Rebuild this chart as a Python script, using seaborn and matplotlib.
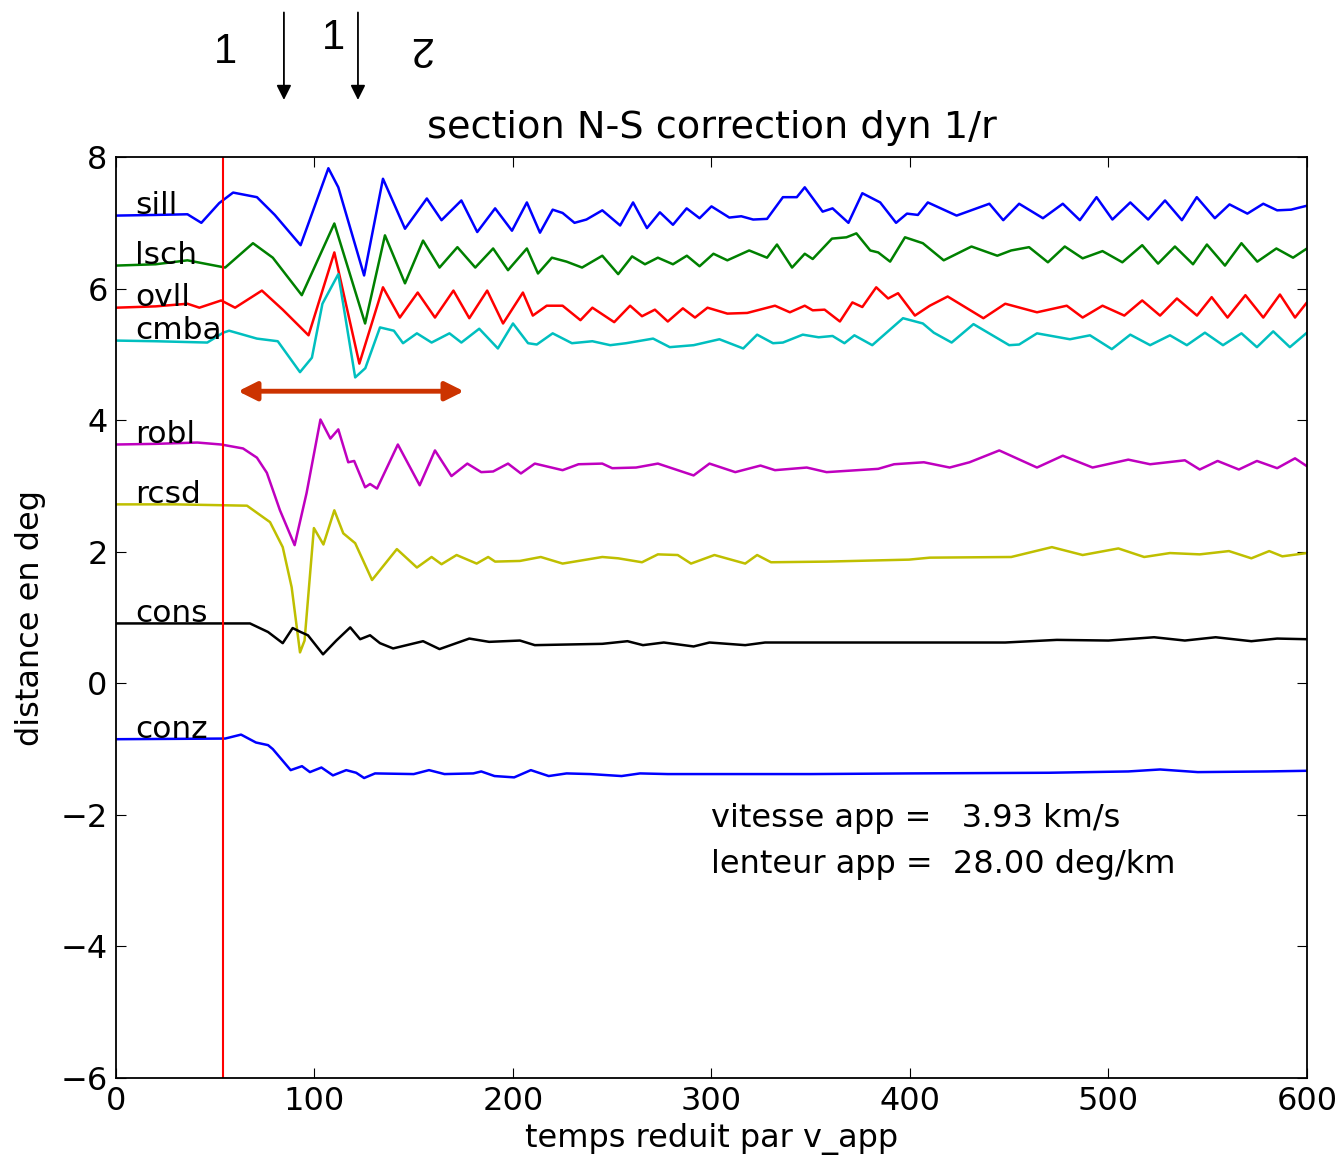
import pandas as pd
import matplotlib
matplotlib.use('Agg')
import matplotlib.pyplot as plt
import seaborn as sns


# =========================
# Donnees
# =========================

stations = ['sill', 'lsch', 'ovll', 'cmba', 'robl', 'rcsd', 'cons', 'conz']
couleurs = ['#0000ff', '#008000', '#ff0000', '#00bfbf',
            '#bf00bf', '#bfbf00', '#000000', '#0000ff']

sill = [(0, 7.11), (20, 7.12), (36, 7.13), (43, 7.0), (52, 7.3), (59, 7.46),
        (71, 7.39), (80, 7.12), (93, 6.66), (107, 7.83), (112, 7.54), (125, 6.2),
        (134.5, 7.67), (145.6, 6.91), (156.6, 7.37), (164, 7.04), (174, 7.34),
        (182, 6.86), (191, 7.22), (199.5, 6.88), (207, 7.31), (213.6, 6.85),
        (220, 7.2), (225, 7.15), (231, 7.0), (237, 7.05), (245, 7.19), (254, 6.96),
        (260.5, 7.31), (267.5, 6.92), (274, 7.16), (280.6, 6.97), (287.5, 7.22),
        (294, 7.07), (300, 7.25), (309, 7.08), (315, 7.1), (321, 7.05), (328, 7.06),
        (336, 7.39), (343, 7.39), (347, 7.54), (356, 7.17), (361, 7.22), (369, 7.0),
        (376, 7.45), (385, 7.31), (393, 7.0), (398.5, 7.14), (404, 7.12),
        (409, 7.31), (423.5, 7.11), (440, 7.29), (447, 7.04), (455, 7.29),
        (467, 7.07), (477, 7.29), (485.6, 7.04), (494, 7.39), (502, 7.05),
        (511, 7.31), (520, 7.05), (528.5, 7.34), (537, 7.04), (544.5, 7.39),
        (553.6, 7.07), (561, 7.28), (570, 7.14), (578, 7.29), (585, 7.19),
        (592, 7.2), (600, 7.26)]

lsch = [(0, 6.35), (20, 6.37), (36, 6.43), (55, 6.32), (69, 6.69), (79, 6.47),
        (93.6, 5.9), (110, 6.99), (125.5, 5.47), (135.5, 6.81), (145.6, 6.08),
        (154.7, 6.73), (163, 6.32), (172, 6.63), (181, 6.32), (190, 6.61),
        (197.5, 6.28), (207, 6.61), (212.6, 6.23), (219.6, 6.47), (227, 6.41),
        (234.8, 6.32), (245, 6.5), (253, 6.22), (260, 6.49), (266.5, 6.37),
        (273, 6.47), (280.6, 6.37), (287.6, 6.5), (294, 6.34), (301, 6.53),
        (308, 6.43), (319, 6.58), (328, 6.47), (333, 6.67), (340.6, 6.32),
        (347, 6.53), (351, 6.45), (360.7, 6.76), (368, 6.78), (373, 6.84),
        (380, 6.58), (384, 6.55), (390, 6.41), (397.5, 6.78), (406.5, 6.69),
        (417, 6.43), (431, 6.64), (444, 6.5), (451, 6.58), (460, 6.63),
        (469.5, 6.4), (478, 6.64), (487, 6.46), (497, 6.57), (507, 6.4),
        (517, 6.66), (525, 6.38), (533.5, 6.64), (542.6, 6.37), (549.6, 6.67),
        (558.7, 6.35), (567, 6.69), (575, 6.41), (584.6, 6.61), (593, 6.47),
        (600, 6.61)]

ovll = [(0, 5.71), (20, 5.73), (36, 5.77), (42, 5.71), (53, 5.82), (60, 5.71),
        (73.5, 5.97), (84, 5.68), (97, 5.29), (110, 6.55), (122.6, 4.86),
        (134.5, 6.02), (143, 5.56), (152, 5.94), (160.7, 5.56), (170, 5.97),
        (178, 5.55), (187, 5.97), (195, 5.47), (205, 5.94), (210, 5.59),
        (217, 5.74), (225, 5.74), (234, 5.52), (240, 5.71), (251, 5.49),
        (259, 5.74), (265, 5.58), (271.5, 5.68), (278, 5.5), (285.6, 5.7),
        (291.7, 5.56), (298, 5.71), (308, 5.62), (318, 5.63), (332, 5.74),
        (339.5, 5.64), (347, 5.74), (351, 5.67), (357, 5.68), (364.7, 5.5),
        (371, 5.79), (376, 5.72), (383, 6.02), (389, 5.85), (394, 5.93),
        (402.5, 5.59), (410, 5.74), (419, 5.88), (437, 5.55), (448, 5.77),
        (464, 5.64), (479, 5.74), (487, 5.56), (497, 5.74), (508, 5.59),
        (517, 5.82), (526, 5.59), (534.5, 5.85), (544.6, 5.59), (552, 5.87),
        (560, 5.56), (569, 5.9), (578, 5.56), (586.4, 5.91), (594, 5.56),
        (600, 5.79)]

cmba = [(0, 5.21), (20, 5.2), (46, 5.18), (54, 5.33), (57, 5.36), (71, 5.24),
        (81.5, 5.2), (92.7, 4.73), (98.7, 4.95), (104, 5.77), (112, 6.22),
        (120.5, 4.65), (125.6, 4.79), (133, 5.41), (140, 5.36), (144.6, 5.17),
        (151.6, 5.32), (159, 5.18), (168, 5.32), (174, 5.18), (183, 5.39),
        (192.4, 5.09), (200, 5.47), (207.6, 5.17), (212, 5.15), (220, 5.32),
        (229.7, 5.17), (240, 5.2), (249, 5.14), (257, 5.17), (270.6, 5.24),
        (279, 5.11), (291, 5.14), (304, 5.23), (316, 5.09), (323, 5.3),
        (331, 5.17), (336, 5.18), (346, 5.3), (354, 5.26), (361, 5.28),
        (367, 5.17), (372, 5.29), (381, 5.14), (396.5, 5.55), (406.5, 5.47),
        (412, 5.33), (421, 5.18), (432, 5.46), (450, 5.14), (455, 5.15),
        (464, 5.32), (480.6, 5.23), (490.7, 5.29), (501.7, 5.08), (511, 5.3),
        (521, 5.14), (531, 5.29), (539.5, 5.14), (548.6, 5.33), (557.7, 5.14),
        (567, 5.32), (574.8, 5.11), (583, 5.35), (591.4, 5.11), (600, 5.33)]

robl = [(0, 3.63), (20, 3.64), (41, 3.66), (53, 3.63), (64, 3.57), (71, 3.43),
        (76, 3.2), (82.6, 2.63), (90, 2.1), (96, 2.89), (103, 4.01), (108, 3.72),
        (112, 3.86), (117, 3.36), (120, 3.38), (125.5, 2.98), (128, 3.03),
        (131.5, 2.96), (142, 3.63), (153, 3.01), (160.7, 3.54), (169, 3.15),
        (177, 3.34), (184, 3.21), (190, 3.22), (197.5, 3.34), (204, 3.19),
        (211, 3.34), (218, 3.29), (225, 3.24), (233, 3.33), (245, 3.34),
        (250, 3.27), (262, 3.28), (273, 3.34), (291, 3.16), (299, 3.34),
        (312, 3.21), (324.7, 3.31), (332, 3.24), (348, 3.28), (358, 3.21),
        (384, 3.26), (392, 3.33), (407, 3.36), (420, 3.28), (430, 3.36),
        (445, 3.54), (464, 3.28), (477, 3.46), (492, 3.28), (510, 3.4),
        (521, 3.33), (538.5, 3.39), (546, 3.25), (555, 3.38), (565.7, 3.25),
        (574.8, 3.38), (585, 3.27), (594, 3.42), (600, 3.3)]

rcsd = [(0, 2.72), (30, 2.72), (66, 2.7), (77.6, 2.45), (84, 2.07), (88.5, 1.46),
        (92.7, 0.47), (95, 0.65), (99.7, 2.36), (104.5, 2.11), (110, 2.63),
        (114.5, 2.28), (120.5, 2.13), (129, 1.57), (141.5, 2.04), (151.6, 1.76),
        (159, 1.92), (164, 1.81), (171.6, 1.95), (181.7, 1.82), (187.5, 1.92),
        (191, 1.85), (203.5, 1.86), (214, 1.92), (225, 1.82), (245, 1.92),
        (253, 1.9), (265, 1.84), (273, 1.96), (283, 1.95), (289.7, 1.82),
        (301.5, 1.95), (317, 1.82), (323, 1.95), (330, 1.84), (358, 1.85),
        (399.5, 1.88), (410, 1.91), (451, 1.92), (471.5, 2.07), (487, 1.95),
        (505, 2.05), (518, 1.92), (531, 1.98), (546, 1.96), (560.7, 2.01),
        (572, 1.9), (581, 2.01), (587.6, 1.93), (600, 1.98)]

cons = [(0, 0.91), (67.5, 0.91), (76.6, 0.78), (84, 0.61), (89, 0.84), (93, 0.78),
        (96.7, 0.73), (104.3, 0.44), (111, 0.65), (118, 0.85), (123, 0.67),
        (128, 0.73), (133, 0.61), (139.6, 0.53), (154.7, 0.64), (163, 0.52),
        (178, 0.68), (188, 0.63), (203.5, 0.65), (211, 0.58), (245, 0.6),
        (257.7, 0.64), (265.5, 0.58), (276, 0.62), (291, 0.56), (299, 0.62),
        (317, 0.58), (327, 0.62), (384, 0.62), (448, 0.62), (474, 0.66),
        (500, 0.65), (523, 0.7), (538.5, 0.65), (554, 0.7), (572, 0.64),
        (585, 0.68), (600, 0.67)]

conz = [(0, -0.85), (55, -0.84), (63, -0.78), (70.5, -0.9), (76.6, -0.94),
        (79, -1.0), (88, -1.32), (93.7, -1.26), (97.7, -1.35), (103.5, -1.28),
        (109.3, -1.4), (116, -1.32), (121, -1.36), (125, -1.44), (130.5, -1.37),
        (150, -1.38), (157.7, -1.32), (165.5, -1.38), (180, -1.37), (184, -1.34),
        (190.7, -1.41), (200.6, -1.43), (209, -1.32), (218, -1.41), (227, -1.37),
        (239, -1.38), (254.7, -1.41), (264, -1.37), (278, -1.38), (299, -1.38),
        (350, -1.38), (400, -1.37), (470, -1.36), (510, -1.34), (526, -1.31),
        (545, -1.35), (580, -1.34), (600, -1.33)]

traces = [sill, lsch, ovll, cmba, robl, rcsd, cons, conz]

t_pick = 54            # pointe rouge
fleche_t = [61.5, 175.3]
fleche_y = 4.44
vitesse_app = 3.93
lenteur_app = 28.00


# =========================
# Tableau long
# =========================

rows = []
for nom, tr in zip(stations, traces):
    for t, d in tr:
        rows.append({'station': nom, 't': t, 'dist': d})
df = pd.DataFrame(rows)


# =========================
# Figure
# =========================

sns.set_style('ticks', {'xtick.direction': 'in', 'ytick.direction': 'in',
                        'axes.edgecolor': 'black', 'text.color': 'black',
                        'axes.labelcolor': 'black', 'xtick.color': 'black',
                        'ytick.color': 'black'})
plt.rcParams['font.family'] = ['DejaVu Sans']
plt.rcParams['xtick.top'] = True
plt.rcParams['ytick.right'] = True
plt.rcParams['xtick.major.size'] = 7
plt.rcParams['ytick.major.size'] = 7
plt.rcParams['axes.linewidth'] = 1.3

fig = plt.figure(figsize=(13.41, 11.59), dpi=100)
ax = fig.add_axes([0.0865, 0.0699, 0.8881, 0.7946])

sns.lineplot(
    data=df,
    x='t',
    y='dist',
    hue='station',
    hue_order=stations,
    palette=dict(zip(stations, couleurs)),
    estimator=None,
    sort=False,
    legend=False,
    linewidth=1.8,
    ax=ax
)

for nom, tr in zip(stations, traces):
    ax.text(9.5, tr[0][1] + 0.02, nom, fontsize=22.5, va='baseline')

ax.axvline(t_pick, color='red', lw=1.5)

ax.annotate(
    '', xy=(fleche_t[1], fleche_y), xytext=(fleche_t[0], fleche_y),
    arrowprops=dict(arrowstyle='<|-|>', color='#cc3300', lw=3.5,
                    mutation_scale=28, shrinkA=0, shrinkB=0)
)

ax.text(300, -2.05, 'vitesse app =   %.2f km/s' % vitesse_app,
        fontsize=23, va='center')
ax.text(300, -2.75, 'lenteur app =  %.2f deg/km' % lenteur_app,
        fontsize=23, va='center')

# annotations au dessus du cadre
for tx in [84.6, 121.9]:
    ax.annotate(
        '', xy=(tx, 1.062), xytext=(tx, 1.157),
        xycoords=('data', 'axes fraction'),
        textcoords=('data', 'axes fraction'),
        arrowprops=dict(arrowstyle='-|>', color='black', lw=1.3,
                        mutation_scale=22, shrinkA=0, shrinkB=0),
        annotation_clip=False
    )
ax.text(54.9, 1.114, '1', transform=ax.get_xaxis_transform(),
        fontsize=30, fontname='Liberation Sans', ha='center', va='center')
ax.text(109.3, 1.129, '1', transform=ax.get_xaxis_transform(),
        fontsize=30, fontname='Liberation Sans', ha='center', va='center')
ax.text(153, 1.118, '2', transform=ax.get_xaxis_transform(),
        fontsize=30, fontname='Liberation Sans', ha='center', va='center',
        rotation=180)

ax.set_xlim(0, 600)
ax.set_ylim(-6, 8)
ax.set_xticks(range(0, 601, 100))
ax.set_yticks(range(-6, 9, 2))
ax.tick_params(labelsize=23, pad=6)

ax.set_title('section N-S correction dyn 1/r', fontsize=27.5, pad=14)
ax.set_xlabel('temps reduit par v_app', fontsize=23, labelpad=4)
ax.set_ylabel('distance en deg', fontsize=23, labelpad=10)

plt.savefig('out.png', dpi=100)
